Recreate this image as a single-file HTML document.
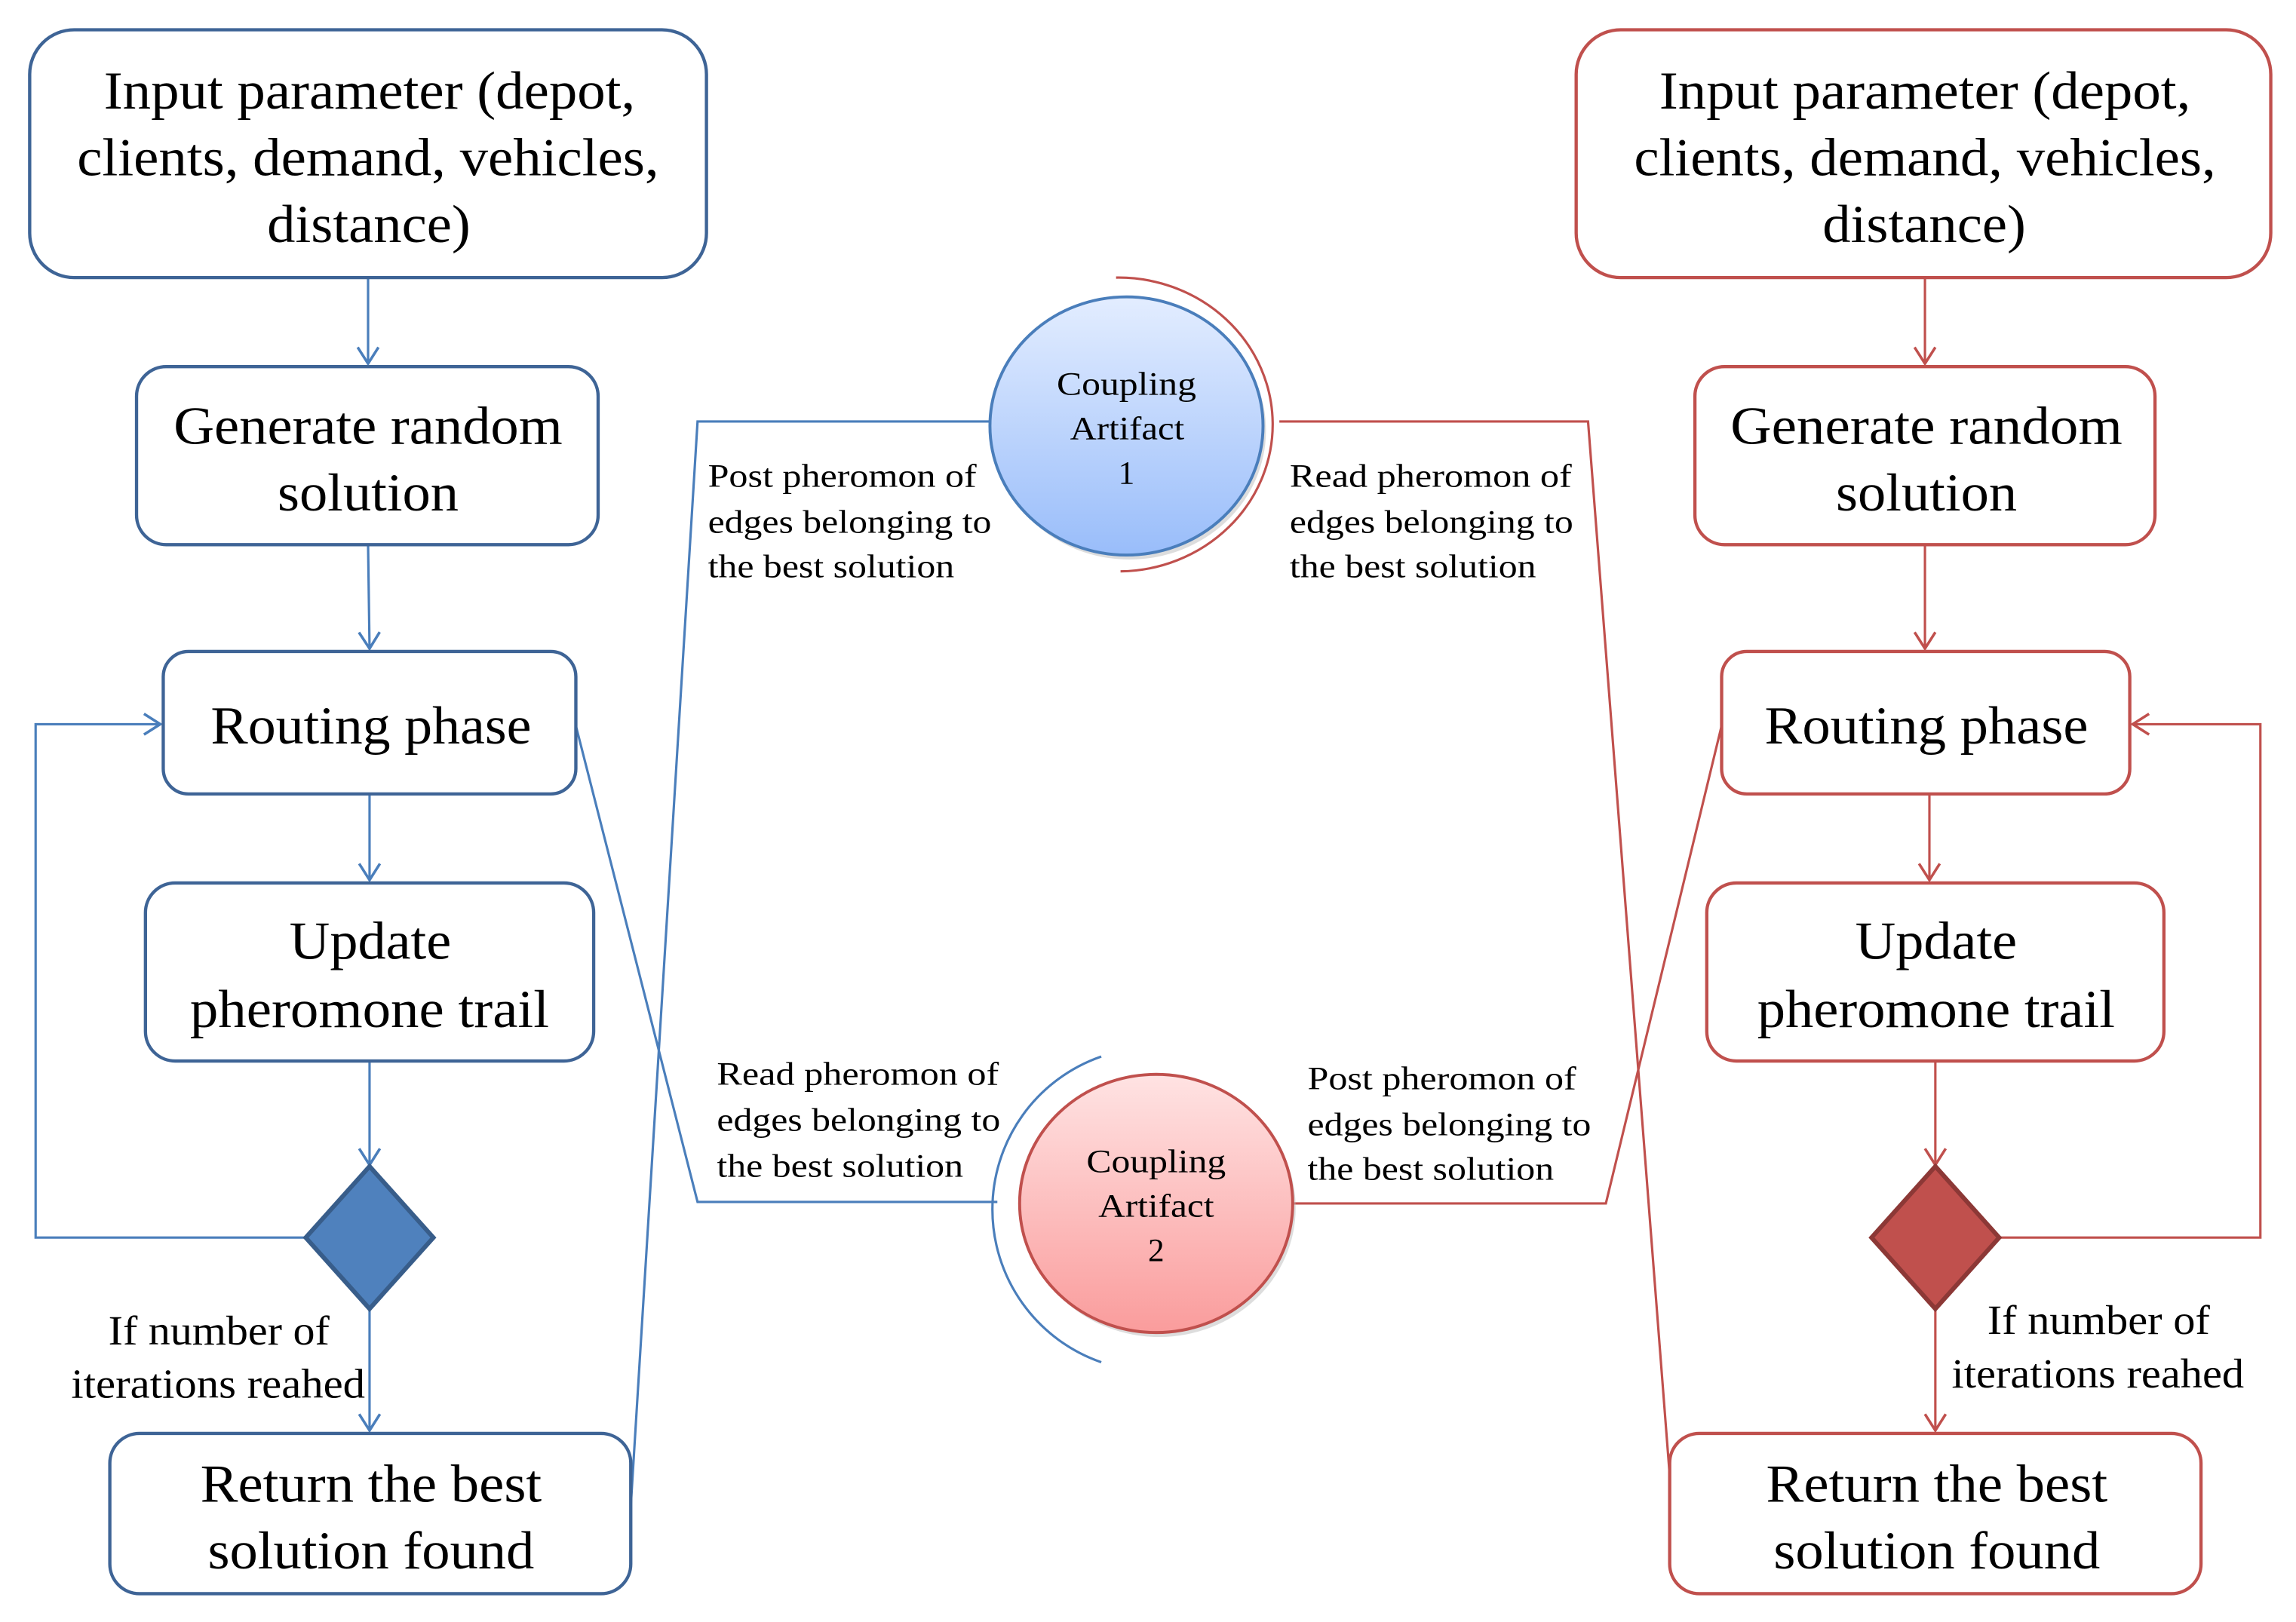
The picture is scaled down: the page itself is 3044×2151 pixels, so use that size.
<!DOCTYPE html>
<html><head><meta charset="utf-8"><style>
html,body{margin:0;padding:0;background:#fff;}
svg{display:block;}
text{font-family:"Liberation Serif","Times New Roman",serif;fill:#000;}
</style></head><body>
<svg width="3044" height="2151" viewBox="0 0 1547 1093" xmlns="http://www.w3.org/2000/svg" font-family="Liberation Serif, serif">
<defs>
<linearGradient id="gb" x1="0" y1="0" x2="0" y2="1"><stop offset="0" stop-color="#e3edff"/><stop offset="1" stop-color="#99bdfa"/></linearGradient>
<linearGradient id="gr" x1="0" y1="0" x2="0" y2="1"><stop offset="0" stop-color="#ffe3e3"/><stop offset="1" stop-color="#fa9c9c"/></linearGradient>
<marker id="ab" markerWidth="14" markerHeight="16" refX="12" refY="8" orient="auto" markerUnits="userSpaceOnUse" viewBox="0 0 14 16"><path d="M1,1 L12,8 L1,15" fill="none" stroke="#4a7ebb" stroke-width="1.8"/></marker>
<marker id="ar" markerWidth="14" markerHeight="16" refX="12" refY="8" orient="auto" markerUnits="userSpaceOnUse" viewBox="0 0 14 16"><path d="M1,1 L12,8 L1,15" fill="none" stroke="#c0504d" stroke-width="1.8"/></marker>
</defs>
<g fill="none" stroke-width="1.6">
<g stroke="#4a7ebb">
<line x1="248" y1="187" x2="248" y2="245" marker-end="url(#ab)"/>
<line x1="248" y1="367" x2="249" y2="437" marker-end="url(#ab)"/>
<line x1="249" y1="535" x2="249" y2="593" marker-end="url(#ab)"/>
<line x1="249" y1="715" x2="249" y2="785" marker-end="url(#ab)"/>
<line x1="249" y1="882" x2="249" y2="964" marker-end="url(#ab)"/>
<polyline points="206,834 24,834 24,488 108,488" marker-end="url(#ab)"/>
<polyline points="425,1015 470,284 667,284"/>
<polyline points="388,489 470,810 672,810"/>
</g>
<g stroke="#c0504d">
<line x1="1297" y1="187" x2="1297" y2="245" marker-end="url(#ar)"/>
<line x1="1297" y1="367" x2="1297" y2="437" marker-end="url(#ar)"/>
<line x1="1300" y1="535" x2="1300" y2="593" marker-end="url(#ar)"/>
<line x1="1304" y1="715" x2="1304" y2="785" marker-end="url(#ar)"/>
<line x1="1304" y1="882" x2="1304" y2="964" marker-end="url(#ar)"/>
<polyline points="1347,834 1523,834 1523,488 1437,488" marker-end="url(#ar)"/>
<polyline points="862,284 1070,284 1127,1020"/>
<polyline points="870,811 1082,811 1160,489"/>
</g>
</g>
<g fill="#fff" stroke="#3e6496" stroke-width="2.2">
<rect x="20" y="20" width="456" height="167" rx="30"/>
<rect x="92" y="247" width="311" height="120" rx="20"/>
<rect x="110" y="439" width="278" height="96" rx="17"/>
<rect x="98" y="595" width="302" height="120" rx="20"/>
<rect x="74" y="966" width="351" height="108" rx="20"/>
</g>
<polygon points="249,786 292,834 249,882 206,834" fill="#4f81bd" stroke="#385d8a" stroke-width="3"/>
<g fill="#fff" stroke="#c0504d" stroke-width="2.2">
<rect x="1062" y="20" width="468" height="167" rx="30"/>
<rect x="1142" y="247" width="310" height="120" rx="20"/>
<rect x="1160" y="439" width="275" height="96" rx="17"/>
<rect x="1150" y="595" width="308" height="120" rx="20"/>
<rect x="1125" y="966" width="358" height="108" rx="20"/>
</g>
<polygon points="1304,786 1347,834 1304,882 1261,834" fill="#c0504d" stroke="#8c3836" stroke-width="3"/>
<ellipse cx="761" cy="290" rx="92" ry="87" fill="#bbb" opacity="0.5"/>
<ellipse cx="781" cy="814" rx="92" ry="87" fill="#bbb" opacity="0.5"/>
<ellipse cx="759" cy="287" rx="92" ry="87" fill="url(#gb)" stroke="#4a7ebb" stroke-width="2"/>
<ellipse cx="779" cy="811" rx="92" ry="87" fill="url(#gr)" stroke="#c0504d" stroke-width="2"/>
<path d="M752,187 A104,99 0 1 1 755,385" fill="none" stroke="#c0504d" stroke-width="1.6"/>
<path d="M742,712 A109,109 0 0 0 742,918" fill="none" stroke="#4a7ebb" stroke-width="1.6"/>
<g font-size="36">
<text x="70" y="73" textLength="358" lengthAdjust="spacingAndGlyphs">Input parameter (depot,</text>
<text x="52" y="118" textLength="392" lengthAdjust="spacingAndGlyphs">clients, demand, vehicles,</text>
<text x="180" y="163" textLength="137" lengthAdjust="spacingAndGlyphs">distance)</text>
<text x="117" y="299" textLength="262" lengthAdjust="spacingAndGlyphs">Generate random</text>
<text x="187" y="344" textLength="122" lengthAdjust="spacingAndGlyphs">solution</text>
<text x="142" y="501" textLength="216" lengthAdjust="spacingAndGlyphs">Routing phase</text>
<text x="195" y="646" textLength="109" lengthAdjust="spacingAndGlyphs">Update</text>
<text x="128" y="692" textLength="242" lengthAdjust="spacingAndGlyphs">pheromone trail</text>
<text x="135" y="1012" textLength="230" lengthAdjust="spacingAndGlyphs">Return the best</text>
<text x="140" y="1057" textLength="220" lengthAdjust="spacingAndGlyphs">solution found</text>
<text x="1118" y="73" textLength="358" lengthAdjust="spacingAndGlyphs">Input parameter (depot,</text>
<text x="1101" y="118" textLength="392" lengthAdjust="spacingAndGlyphs">clients, demand, vehicles,</text>
<text x="1228" y="163" textLength="137" lengthAdjust="spacingAndGlyphs">distance)</text>
<text x="1166" y="299" textLength="264" lengthAdjust="spacingAndGlyphs">Generate random</text>
<text x="1237" y="344" textLength="122" lengthAdjust="spacingAndGlyphs">solution</text>
<text x="1189" y="501" textLength="218" lengthAdjust="spacingAndGlyphs">Routing phase</text>
<text x="1250" y="646" textLength="109" lengthAdjust="spacingAndGlyphs">Update</text>
<text x="1184" y="692" textLength="241" lengthAdjust="spacingAndGlyphs">pheromone trail</text>
<text x="1190" y="1012" textLength="230" lengthAdjust="spacingAndGlyphs">Return the best</text>
<text x="1195" y="1057" textLength="220" lengthAdjust="spacingAndGlyphs">solution found</text>
</g>
<g font-size="28">
<text x="73" y="906" textLength="149" lengthAdjust="spacingAndGlyphs">If number of</text>
<text x="48" y="942" textLength="198" lengthAdjust="spacingAndGlyphs">iterations reahed</text>
<text x="1339" y="899" textLength="150" lengthAdjust="spacingAndGlyphs">If number of</text>
<text x="1315" y="935" textLength="197" lengthAdjust="spacingAndGlyphs">iterations reahed</text>
</g>
<g font-size="22">
<text x="477" y="328" textLength="181" lengthAdjust="spacingAndGlyphs">Post pheromon of</text>
<text x="477" y="359" textLength="191" lengthAdjust="spacingAndGlyphs">edges belonging to</text>
<text x="477" y="389" textLength="166" lengthAdjust="spacingAndGlyphs">the best solution</text>
<text x="869" y="328" textLength="190" lengthAdjust="spacingAndGlyphs">Read pheromon of</text>
<text x="869" y="359" textLength="191" lengthAdjust="spacingAndGlyphs">edges belonging to</text>
<text x="869" y="389" textLength="166" lengthAdjust="spacingAndGlyphs">the best solution</text>
<text x="483" y="731" textLength="190" lengthAdjust="spacingAndGlyphs">Read pheromon of</text>
<text x="483" y="762" textLength="191" lengthAdjust="spacingAndGlyphs">edges belonging to</text>
<text x="483" y="793" textLength="166" lengthAdjust="spacingAndGlyphs">the best solution</text>
<text x="881" y="734" textLength="181" lengthAdjust="spacingAndGlyphs">Post pheromon of</text>
<text x="881" y="765" textLength="191" lengthAdjust="spacingAndGlyphs">edges belonging to</text>
<text x="881" y="795" textLength="166" lengthAdjust="spacingAndGlyphs">the best solution</text>
<text x="712" y="266" textLength="94" lengthAdjust="spacingAndGlyphs">Coupling</text>
<text x="721" y="296" textLength="77" lengthAdjust="spacingAndGlyphs">Artifact</text>
<text x="759" y="326" text-anchor="middle">1</text>
<text x="732" y="790" textLength="94" lengthAdjust="spacingAndGlyphs">Coupling</text>
<text x="740" y="820" textLength="78" lengthAdjust="spacingAndGlyphs">Artifact</text>
<text x="779" y="850" text-anchor="middle">2</text>
</g>
</svg>
</body></html>
